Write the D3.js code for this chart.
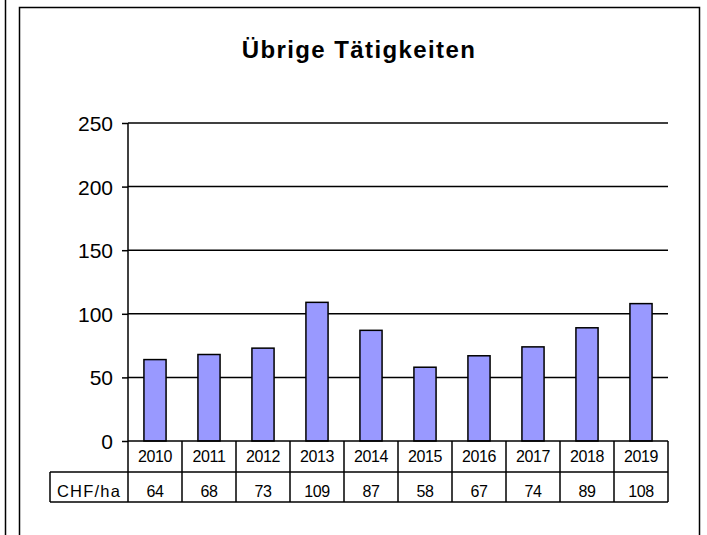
<!DOCTYPE html>
<html>
<head>
<meta charset="utf-8">
<script src="https://cdn.jsdelivr.net/npm/d3@7"></script>
<style>
  body { margin: 0; background: #fff; }
  svg text { font-family: "Liberation Sans", Arial, sans-serif; fill: #000; }
</style>
</head>
<body>
<div class="chart"></div>
<script>
var years = ["2010", "2011", "2012", "2013", "2014", "2015", "2016", "2017", "2018", "2019"];
var values = [64, 68, 73, 109, 87, 58, 67, 74, 89, 108];
var yTicks = [0, 50, 100, 150, 200, 250];
var title = "Übrige Tätigkeiten";
var rowLabel = "CHF/ha";

var svgWidth = 707;
var svgHeight = 535;

var svg = d3.select(".chart")
    .append("svg")
    .attr("width", svgWidth)
    .attr("height", svgHeight);

// frames
svg.append("line")
    .attr("x1", 5.5).attr("x2", 5.5)
    .attr("y1", 0).attr("y2", svgHeight)
    .attr("stroke", "#000").attr("stroke-width", 1.5);

svg.append("rect")
    .attr("x", 19.5).attr("y", 7.5)
    .attr("width", 680).attr("height", 540)
    .attr("fill", "none")
    .attr("stroke", "#000").attr("stroke-width", 1.5);

svg.append("text")
    .attr("x", 359)
    .attr("y", 58)
    .attr("text-anchor", "middle")
    .style("font-size", "24px")
    .style("font-weight", "bold")
    .style("letter-spacing", "1.4px")
    .text(title);

var plotLeft = 128, plotRight = 668, plotTop = 123, plotBottom = 441;

var x = d3.scaleBand()
    .domain(years)
    .range([plotLeft, plotRight])
    .padding(0);

var y = d3.scaleLinear()
    .domain([0, 250])
    .range([plotBottom, plotTop]);

var barW = x.bandwidth() * 0.41;

// gridlines
svg.append("g")
    .selectAll("line")
    .data(yTicks.filter(d => d > 0))
    .enter()
    .append("line")
    .attr("x1", plotLeft).attr("x2", plotRight)
    .attr("y1", d => y(d)).attr("y2", d => y(d))
    .attr("stroke", "#000").attr("stroke-width", 1.5);

// y axis
var leftAxis = d3.axisLeft(y)
    .tickValues(yTicks)
    .tickSize(6)
    .tickPadding(9);

var yAxis = svg.append("g")
    .attr("transform", `translate(${plotLeft}, 0)`)
    .call(leftAxis);
yAxis.select(".domain").remove();
yAxis.selectAll("line").attr("stroke", "#000").attr("stroke-width", 1.5);
yAxis.selectAll("text")
    .style("font-size", "21px")
    .style("font-family", "'Liberation Sans', Arial, sans-serif")
    .attr("dy", "0.36em");

svg.append("line")
    .attr("x1", plotLeft).attr("x2", plotLeft)
    .attr("y1", plotTop).attr("y2", plotBottom)
    .attr("stroke", "#000").attr("stroke-width", 1.5);

// bars
svg.append("g")
    .selectAll("rect")
    .data(values)
    .enter()
    .append("rect")
    .attr("x", (d, i) => x(years[i]) + x.bandwidth() / 2 - barW / 2)
    .attr("y", d => y(d))
    .attr("width", barW)
    .attr("height", d => plotBottom - y(d))
    .attr("fill", "#9999ff")
    .attr("stroke", "#000")
    .attr("stroke-width", 1.5);

// data table
var row1 = plotBottom, row2 = 472, row3 = 502, labelLeft = 50;
var table = svg.append("g")
    .attr("stroke", "#000").attr("stroke-width", 1.5);

table.append("line").attr("x1", plotLeft).attr("x2", plotRight).attr("y1", row1).attr("y2", row1);
table.append("line").attr("x1", labelLeft).attr("x2", plotRight).attr("y1", row2).attr("y2", row2);
table.append("line").attr("x1", labelLeft).attr("x2", plotRight).attr("y1", row3).attr("y2", row3);
table.append("line").attr("x1", labelLeft).attr("x2", labelLeft).attr("y1", row2).attr("y2", row3);

table.selectAll(".vline")
    .data(years)
    .enter()
    .append("line")
    .attr("class", "vline")
    .attr("x1", d => x(d)).attr("x2", d => x(d))
    .attr("y1", row1).attr("y2", row3);

table.append("line").attr("x1", plotRight).attr("x2", plotRight).attr("y1", row1).attr("y2", row3);

svg.append("g")
    .selectAll("text")
    .data(years)
    .enter()
    .append("text")
    .attr("x", d => x(d) + x.bandwidth() / 2)
    .attr("y", 462)
    .attr("text-anchor", "middle")
    .style("font-size", "16px")
    .style("letter-spacing", "-0.4px")
    .text(d => d);

svg.append("g")
    .selectAll("text")
    .data(values)
    .enter()
    .append("text")
    .attr("x", (d, i) => x(years[i]) + x.bandwidth() / 2)
    .attr("y", 497)
    .attr("text-anchor", "middle")
    .style("font-size", "16px")
    .style("letter-spacing", "-0.4px")
    .text(d => d);

svg.append("text")
    .attr("x", (labelLeft + plotLeft) / 2)
    .attr("y", 497)
    .attr("text-anchor", "middle")
    .style("font-size", "16.5px")
    .style("letter-spacing", "1.2px")
    .text(rowLabel);
</script>
</body>
</html>
